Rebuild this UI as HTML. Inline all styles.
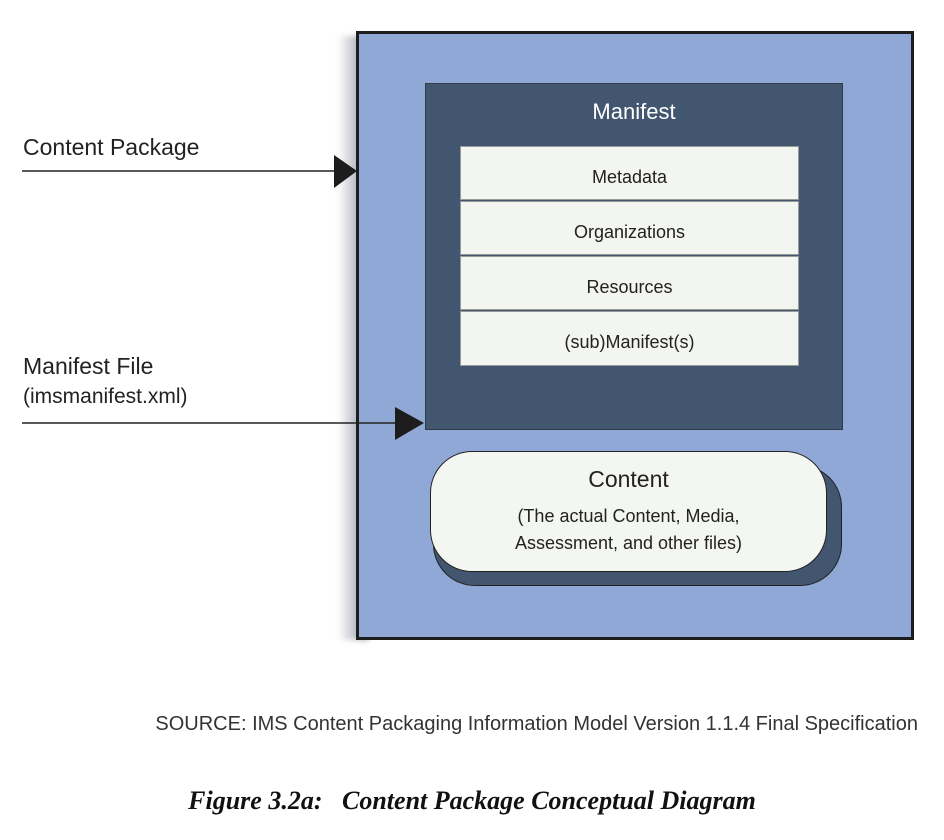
<!DOCTYPE html>
<html><head><style>
body{margin:0;width:944px;height:840px;background:#fff;position:relative;font-family:"Liberation Sans",sans-serif;color:#222;overflow:hidden}
.a{position:absolute}
.row{position:absolute;left:460px;width:339px;height:54px;background:#f3f5f0;border:1px solid #9a9a9a;box-sizing:border-box;text-align:center;line-height:60px;font-size:18px}
</style></head><body>
<div class="a" style="left:338px;top:36px;width:30px;height:604px;background:linear-gradient(to right,rgba(255,255,255,0),#8e93a0);filter:blur(3px)"></div>
<div class="a" style="left:356px;top:31px;width:558px;height:609px;background:#8fa8d5;border:3px solid #1d1d1d;box-sizing:border-box"></div>
<div class="a" style="left:425px;top:83px;width:418px;height:347px;background:#43566f;border:1px solid #2f3a4a;box-sizing:border-box"></div>
<div class="a" style="left:425px;top:99px;width:418px;text-align:center;color:#fff;font-size:22px">Manifest</div>
<div class="row" style="top:146px">Metadata</div>
<div class="row" style="top:201px">Organizations</div>
<div class="row" style="top:256px">Resources</div>
<div class="row" style="top:311px;height:55px">(sub)Manifest(s)</div>
<div class="a" style="left:433px;top:465px;width:409px;height:121px;background:#43566f;border:1px solid #222;border-radius:42px;box-sizing:border-box"></div>
<div class="a" style="left:430px;top:451px;width:397px;height:121px;background:#f4f6f1;border:1px solid #222;border-radius:42px;box-sizing:border-box;text-align:center">
<div style="font-size:23px;margin-top:14px">Content</div>
<div style="font-size:18px;margin-top:10px;line-height:27px">(The actual Content, Media,<br>Assessment, and other files)</div></div>
<svg class="a" style="left:0;top:0" width="944" height="840">
<line x1="22" y1="171" x2="340" y2="171" stroke="#222" stroke-width="1.5"/>
<polygon points="334,155 357,171 334,188" fill="#1d1d1d"/>
<line x1="22" y1="423" x2="400" y2="423" stroke="#222" stroke-width="1.5"/>
<polygon points="395,407 424,423 395,440" fill="#1d1d1d"/>
</svg>
<div class="a" style="left:23px;top:134px;font-size:23px">Content Package</div>
<div class="a" style="left:23px;top:352px;font-size:23px;line-height:29px">Manifest File<br><span style="font-size:21px">(imsmanifest.xml)</span></div>
<div class="a" style="left:100px;top:713px;width:818px;text-align:right;font-size:20px;color:#333">SOURCE: IMS Content Packaging Information Model Version 1.1.4 Final Specification</div>
<div class="a" style="left:0;top:786px;width:944px;text-align:center;font-family:'Liberation Serif',serif;font-weight:bold;font-style:italic;font-size:26px;color:#111">Figure 3.2a:&nbsp;&nbsp; Content Package Conceptual Diagram</div>
</body></html>
